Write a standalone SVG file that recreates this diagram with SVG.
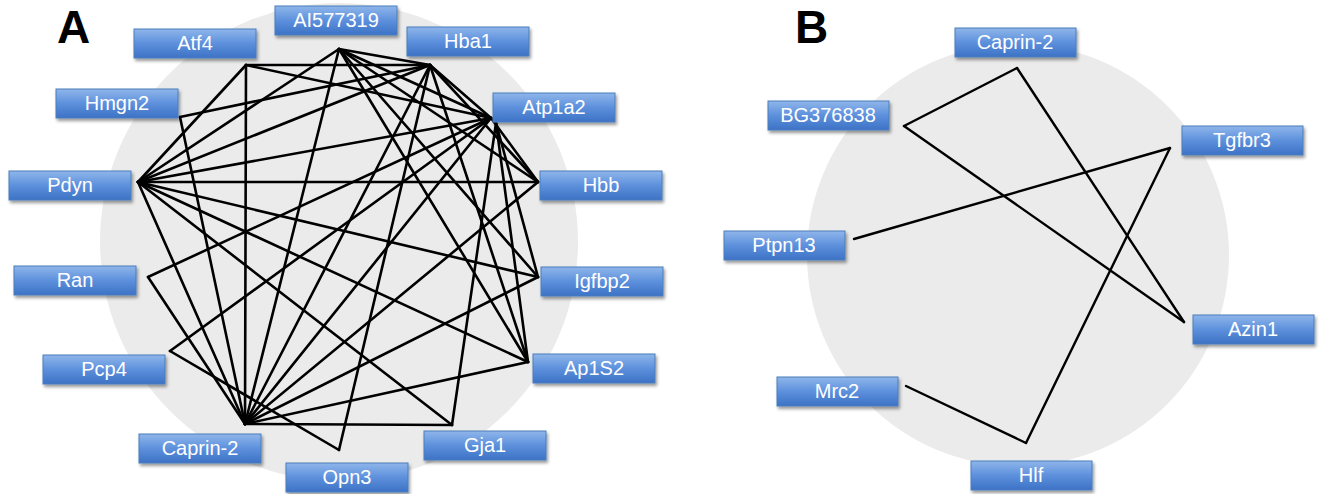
<svg xmlns="http://www.w3.org/2000/svg" width="1325" height="494" viewBox="0 0 1325 494">
<style>
.bg{fill:#ebebeb}
.box{fill:url(#bl);stroke:#4a7ebb;stroke-width:1;filter:url(#sh)}
.lbl{font-family:"Liberation Sans",Arial,sans-serif;font-size:20px;fill:#ffffff;text-anchor:middle}
.panel{font-family:"Liberation Sans",Arial,sans-serif;font-size:46px;font-weight:bold;fill:#000}
.e line{stroke:#000;stroke-width:2.6;stroke-linecap:round}
.eb line{stroke:#000;stroke-width:2.4;stroke-linecap:round}
</style>
<defs>
<linearGradient id="bl" x1="0" y1="0" x2="0" y2="1">
<stop offset="0" stop-color="#8fb6ea"/>
<stop offset="0.5" stop-color="#5d90dc"/>
<stop offset="1" stop-color="#3c72c6"/>
</linearGradient>
<filter id="sh" x="-10%" y="-20%" width="130%" height="160%">
<feDropShadow dx="1.5" dy="2.5" stdDeviation="1.5" flood-color="#000" flood-opacity="0.4"/>
</filter>
</defs>
<rect width="1325" height="494" fill="#fff"/>
<circle class="bg" cx="339" cy="242" r="239"/>
<circle class="bg" cx="1018" cy="255" r="211"/>
<text class="panel" x="57" y="43">A</text>
<text class="panel" x="795" y="43">B</text>
<g id="connectors-A" class="e">
<line x1="246" y1="65" x2="430" y2="65"/>
<line x1="246" y1="65" x2="245" y2="424"/>
<line x1="246" y1="65" x2="138" y2="182"/>
<line x1="246" y1="65" x2="491" y2="118"/>
<line x1="138" y1="182" x2="339" y2="49"/>
<line x1="138" y1="182" x2="430" y2="65"/>
<line x1="138" y1="182" x2="491" y2="118"/>
<line x1="138" y1="182" x2="538" y2="182"/>
<line x1="138" y1="182" x2="538" y2="277"/>
<line x1="138" y1="182" x2="528" y2="362"/>
<line x1="138" y1="182" x2="452" y2="425"/>
<line x1="138" y1="182" x2="245" y2="424"/>
<line x1="180" y1="117" x2="430" y2="65"/>
<line x1="180" y1="117" x2="245" y2="424"/>
<line x1="148" y1="277" x2="491" y2="118"/>
<line x1="148" y1="277" x2="245" y2="424"/>
<line x1="170" y1="351" x2="491" y2="118"/>
<line x1="170" y1="351" x2="339" y2="450"/>
<line x1="339" y1="450" x2="430" y2="65"/>
<line x1="245" y1="424" x2="339" y2="49"/>
<line x1="245" y1="424" x2="430" y2="65"/>
<line x1="245" y1="424" x2="491" y2="118"/>
<line x1="245" y1="424" x2="538" y2="182"/>
<line x1="245" y1="424" x2="538" y2="277"/>
<line x1="245" y1="424" x2="528" y2="362"/>
<line x1="245" y1="424" x2="452" y2="425"/>
<line x1="339" y1="49" x2="430" y2="65"/>
<line x1="339" y1="49" x2="491" y2="118"/>
<line x1="339" y1="49" x2="538" y2="182"/>
<line x1="339" y1="49" x2="528" y2="362"/>
<line x1="339" y1="49" x2="538" y2="277"/>
<line x1="430" y1="65" x2="538" y2="182"/>
<line x1="430" y1="65" x2="528" y2="362"/>
<line x1="430" y1="65" x2="491" y2="118"/>
<line x1="491" y1="118" x2="538" y2="182"/>
<line x1="496" y1="123" x2="538" y2="277"/>
<line x1="496" y1="123" x2="452" y2="425"/>
<line x1="496" y1="123" x2="528" y2="362"/>
</g>
<g id="connectors-B" class="eb">
<line x1="1017" y1="68" x2="904" y2="126"/>
<line x1="1017" y1="68" x2="1184" y2="322"/>
<line x1="904" y1="126" x2="1184" y2="322"/>
<line x1="854" y1="239" x2="1170" y2="148"/>
<line x1="1170" y1="148" x2="1026" y2="443"/>
<line x1="1026" y1="443" x2="906" y2="386"/>
</g>
<g id="A-Atf4"><rect class="box" x="134" y="29" width="122" height="29"/><text class="lbl" x="195" y="50">Atf4</text></g>
<g id="A-AI577319"><rect class="box" x="275" y="6" width="122" height="29"/><text class="lbl" x="336" y="27">AI577319</text></g>
<g id="A-Hba1"><rect class="box" x="407" y="27" width="122" height="29"/><text class="lbl" x="468" y="48">Hba1</text></g>
<g id="A-Atp1a2"><rect class="box" x="493" y="93" width="122" height="29"/><text class="lbl" x="554" y="114">Atp1a2</text></g>
<g id="A-Hbb"><rect class="box" x="540" y="171" width="122" height="29"/><text class="lbl" x="601" y="192">Hbb</text></g>
<g id="A-Igfbp2"><rect class="box" x="541" y="267" width="122" height="29"/><text class="lbl" x="602" y="288">Igfbp2</text></g>
<g id="A-Ap1S2"><rect class="box" x="533" y="354" width="122" height="29"/><text class="lbl" x="594" y="375">Ap1S2</text></g>
<g id="A-Gja1"><rect class="box" x="424" y="431" width="122" height="29"/><text class="lbl" x="485" y="452">Gja1</text></g>
<g id="A-Opn3"><rect class="box" x="286" y="463" width="122" height="29"/><text class="lbl" x="347" y="484">Opn3</text></g>
<g id="A-Caprin-2"><rect class="box" x="139" y="434" width="122" height="29"/><text class="lbl" x="200" y="455">Caprin-2</text></g>
<g id="A-Pcp4"><rect class="box" x="43" y="355" width="122" height="29"/><text class="lbl" x="104" y="376">Pcp4</text></g>
<g id="A-Ran"><rect class="box" x="14" y="266" width="122" height="29"/><text class="lbl" x="75" y="287">Ran</text></g>
<g id="A-Pdyn"><rect class="box" x="9" y="171" width="122" height="29"/><text class="lbl" x="70" y="192">Pdyn</text></g>
<g id="A-Hmgn2"><rect class="box" x="56" y="89" width="122" height="29"/><text class="lbl" x="117" y="110">Hmgn2</text></g>
<g id="B-Caprin-2"><rect class="box" x="955" y="28" width="121" height="29"/><text class="lbl" x="1015" y="49">Caprin-2</text></g>
<g id="B-BG376838"><rect class="box" x="768" y="101" width="121" height="29"/><text class="lbl" x="828" y="122">BG376838</text></g>
<g id="B-Tgfbr3"><rect class="box" x="1182" y="126" width="121" height="29"/><text class="lbl" x="1242" y="147">Tgfbr3</text></g>
<g id="B-Ptpn13"><rect class="box" x="724" y="231" width="121" height="29"/><text class="lbl" x="784" y="252">Ptpn13</text></g>
<g id="B-Azin1"><rect class="box" x="1193" y="315" width="121" height="29"/><text class="lbl" x="1253" y="336">Azin1</text></g>
<g id="B-Mrc2"><rect class="box" x="777" y="377" width="121" height="29"/><text class="lbl" x="837" y="398">Mrc2</text></g>
<g id="B-Hlf"><rect class="box" x="971" y="461" width="121" height="29"/><text class="lbl" x="1031" y="482">Hlf</text></g>
</svg>
